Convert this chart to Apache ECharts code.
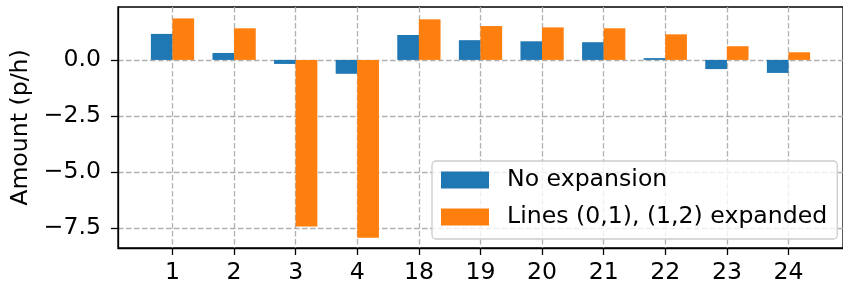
<!DOCTYPE html>
<html>
<head>
<meta charset="utf-8">
<script src="https://cdn.jsdelivr.net/npm/echarts@6/dist/echarts.min.js"></script>
<style>
  html, body { margin: 0; padding: 0; background: #fff; }
  #chart { width: 843px; height: 289px; }
</style>
</head>
<body>
<div id="chart"></div>
<script>
// categories along the x axis (bus / line ids)
var categories = ['1', '2', '3', '4', '18', '19', '20', '21', '22', '23', '24'];
// change in amount, p/h
var noExpansion = [1.16, 0.31, -0.18, -0.62, 1.11, 0.88, 0.83, 0.79, 0.08, -0.41, -0.58];
var expanded = [1.85, 1.41, -7.43, -7.93, 1.81, 1.51, 1.45, 1.41, 1.14, 0.61, 0.34];
var yTicks = [-7.5, -5, -2.5, 0];

var barW = 0.35;
var xIdx = categories.map(function (c, i) { return i; });

function fmtY(v) {
    var s = Math.abs(v).toFixed(1);
    return v < 0 ? '\u2212' + s : s;
}

var font = 'DejaVu Sans';
var fs = 23.6;
var gridLine = { show: true, lineStyle: { color: '#b0b0b0', type: [5.5, 2.5], width: 1.3 } };

var myChart = echarts.init(document.getElementById('chart'));
var option = {
    animation: false,
    grid: {
        left: 118, top: 7, right: -6, bottom: 41,
        show: true, borderColor: '#000', borderWidth: 1.3
    },
    legend: {
        orient: 'vertical',
        left: 432, top: 161,
        data: ['No expansion', 'Lines (0,1), (1,2) expanded'],
        icon: 'rect',
        itemWidth: 48, itemHeight: 17, itemGap: 13,
        padding: [7, 10, 10, 9],
        borderColor: '#cccccc', borderWidth: 1.3, borderRadius: 4,
        backgroundColor: 'rgba(255,255,255,0.8)',
        textStyle: { fontFamily: font, fontSize: fs, color: '#000', padding: [0, 0, 0, 13] }
    },
    xAxis: {
        type: 'value',
        min: -0.885, max: 10.885,
        axisLine: { onZero: false, lineStyle: { color: '#000', width: 1.3 } },
        axisTick: { show: true, length: 7, lineStyle: { color: '#000', width: 1.3 }, customValues: xIdx },
        axisLabel: {
            customValues: xIdx, margin: 13,
            fontFamily: font, fontSize: fs, color: '#000',
            formatter: function (v) { return categories[Math.round(v)]; }
        },
        splitLine: gridLine
    },
    yAxis: {
        type: 'value',
        min: -8.39, max: 2.36,
        name: 'Amount (p/h)', nameLocation: 'middle', nameGap: 78,
        nameTextStyle: { fontFamily: font, fontSize: fs, color: '#000' },
        axisLine: { show: true, onZero: false, lineStyle: { color: '#000', width: 1.3 } },
        axisTick: { show: true, length: 7, lineStyle: { color: '#000', width: 1.3 }, customValues: yTicks },
        axisLabel: {
            customValues: yTicks, margin: 17,
            fontFamily: font, fontSize: fs, color: '#000',
            formatter: fmtY
        },
        splitLine: gridLine
    },
    series: [
        {
            name: 'No expansion', type: 'bar',
            barWidth: 21.7, barGap: '-100%',
            itemStyle: { color: '#1f77b4' },
            data: noExpansion.map(function (v, i) { return [i - barW / 2, v]; })
        },
        {
            name: 'Lines (0,1), (1,2) expanded', type: 'bar',
            barWidth: 21.7, barGap: '-100%',
            itemStyle: { color: '#ff7f0e' },
            data: expanded.map(function (v, i) { return [i + barW / 2, v]; })
        }
    ]
};
myChart.setOption(option);
</script>
</body>
</html>
